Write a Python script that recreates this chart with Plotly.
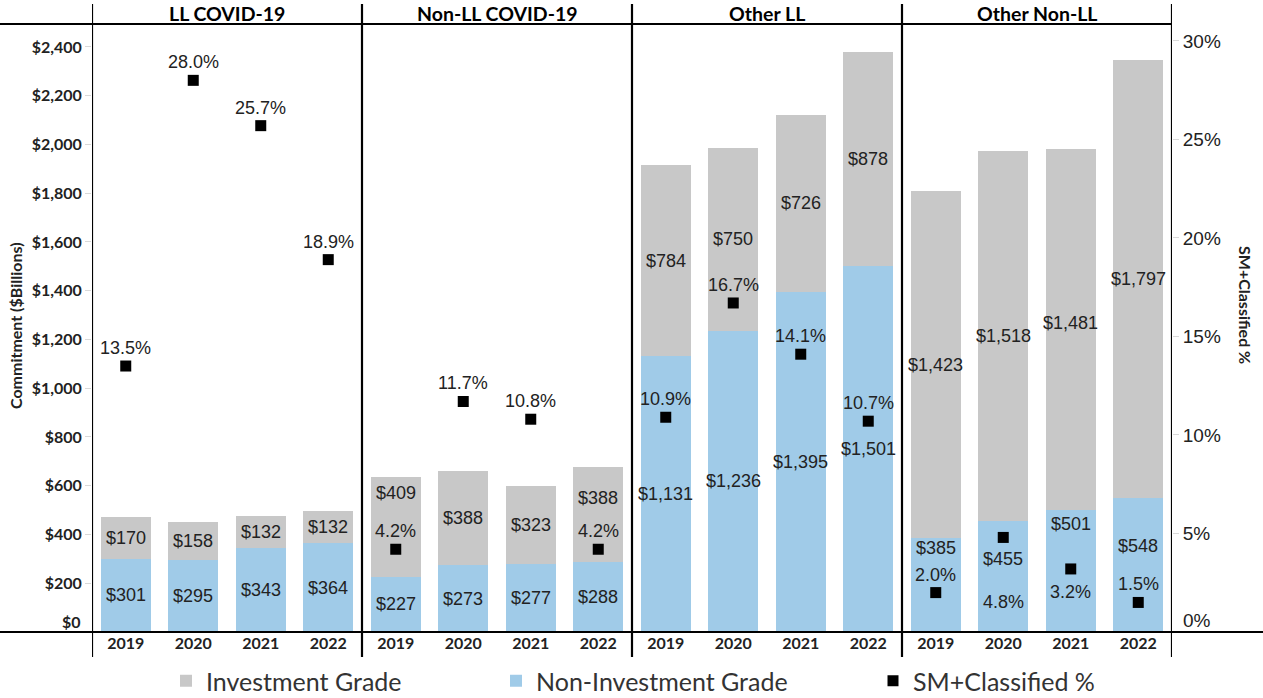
import plotly.graph_objects as go

# ---------------- data ----------------
panels = ["LL COVID-19", "Non-LL COVID-19", "Other LL", "Other Non-LL"]
years = ["2019", "2020", "2021", "2022"]

ll_covid_nig = [301, 295, 343, 364]
ll_covid_ig = [170, 158, 132, 132]
ll_covid_pct = [13.5, 28.0, 25.7, 18.9]

nonll_covid_nig = [227, 273, 277, 288]
nonll_covid_ig = [409, 388, 323, 388]
nonll_covid_pct = [4.2, 11.7, 10.8, 4.2]

other_ll_nig = [1131, 1236, 1395, 1501]
other_ll_ig = [784, 750, 726, 878]
other_ll_pct = [10.9, 16.7, 14.1, 10.7]

other_nonll_nig = [385, 455, 501, 548]
other_nonll_ig = [1423, 1518, 1481, 1797]
other_nonll_pct = [2.0, 4.8, 3.2, 1.5]

left_ticks = [0, 200, 400, 600, 800, 1000, 1200, 1400, 1600, 1800, 2000, 2200, 2400]
left_tick_text = ["$" + f"{v:,}" for v in left_ticks]
right_ticks = [0, 5, 10, 15, 20, 25, 30]
right_tick_text = [f"{v}%" for v in right_ticks]

# ---------------- assemble ----------------
nig = ll_covid_nig + nonll_covid_nig + other_ll_nig + other_nonll_nig
ig = ll_covid_ig + nonll_covid_ig + other_ll_ig + other_nonll_ig
pct = ll_covid_pct + nonll_covid_pct + other_ll_pct + other_nonll_pct
n_years = len(years)
x_pos = list(range(len(panels) * n_years))
x_labels = years * len(panels)

# label nudges (pixels, + = up) to mimic the original label placement
nig_label_shift = {12: 37, 13: 18, 14: 47, 15: 19}
ig_label_shift = {4: 34, 7: 17, 14: 6}
pct_label_default = 18
pct_label_shift = {13: -65, 14: -23}

BLUE = "#A0CBE8"
GRAY = "#C8C8C8"
TXT = "#222222"
LABEL_FONT = dict(family="Liberation Sans, Arial, sans-serif", size=18, color=TXT)
BOLD = "Lato, Open Sans, sans-serif"
LEFT_TICK_FONT = dict(family=BOLD, size=16, color=TXT, weight="bold")
RIGHT_TICK_FONT = dict(family="Liberation Sans, Arial, sans-serif", size=19, color=TXT)

fig = go.Figure()
fig.add_trace(go.Bar(x=x_pos, y=nig, name="Non-Investment Grade",
                     marker=dict(color=BLUE, line=dict(width=0)),
                     legend="legend2", hoverinfo="skip"))
fig.add_trace(go.Bar(x=x_pos, y=ig, name="Investment Grade",
                     marker=dict(color=GRAY, line=dict(width=0)),
                     legend="legend", hoverinfo="skip"))
fig.add_trace(go.Scatter(x=x_pos, y=pct, yaxis="y2", mode="markers",
                         name="SM+Classified %",
                         marker=dict(symbol="square", size=11, color="black"),
                         legend="legend3", hoverinfo="skip"))

# data labels
for i in x_pos:
    fig.add_annotation(x=i, y=nig[i] / 2, text=f"${nig[i]:,}", showarrow=False,
                       yshift=nig_label_shift.get(i, 0), font=LABEL_FONT)
    fig.add_annotation(x=i, y=nig[i] + ig[i] / 2, text=f"${ig[i]:,}", showarrow=False,
                       yshift=ig_label_shift.get(i, 0), font=LABEL_FONT)
    fig.add_annotation(x=i, y=pct[i], yref="y2", text=f"{pct[i]:.1f}%", showarrow=False,
                       yshift=pct_label_shift.get(i, pct_label_default), font=LABEL_FONT)

# panel headers
for p, name in enumerate(panels):
    fig.add_annotation(x=p * n_years + (n_years - 1) / 2, xref="x", y=1.0165, yref="paper",
                       text=name, showarrow=False, yanchor="middle", xanchor="center",
                       font=dict(family=BOLD, size=19.5, color="black", weight="bold"))

# panel frame lines
W, H = 1263, 698
L, R, T, B = 92, 91, 24, 66
pw, ph = W - L - R, H - T - B
line_style = dict(color="black", width=2.2)
for p in range(len(panels) + 1):
    xv = p * n_years - 0.5
    fig.add_shape(type="line", xref="x", yref="paper", x0=xv, x1=xv,
                  y0=-(657 - (H - B)) / ph, y1=1 + (T - 4) / ph, line=line_style, layer="above")
fig.add_shape(type="line", xref="paper", yref="paper", x0=-L / pw, x1=1, y0=1, y1=1,
              line=line_style, layer="above")
fig.add_shape(type="line", xref="paper", yref="paper", x0=-L / pw, x1=(W - L) / pw, y0=0, y1=0,
              line=line_style, layer="above")

# zero tick labels sit just above the baseline (as in the original)
fig.add_annotation(x=-9 / pw, y=0, xref="paper", yref="y", text=left_tick_text[0],
                   showarrow=False, xanchor="right", yanchor="middle", yshift=11,
                   font=LEFT_TICK_FONT)
fig.add_annotation(x=1 + 9 / pw, y=0, xref="paper", yref="y2", text=right_tick_text[0],
                   showarrow=False, xanchor="left", yanchor="middle", yshift=12,
                   font=RIGHT_TICK_FONT)

# axis titles
fig.add_annotation(x=-(L - 15) / pw, y=(H - B - 326) / ph, xref="paper", yref="paper",
                   text="Commitment ($Billions)", textangle=-90, showarrow=False,
                   xanchor="center", yanchor="middle",
                   font=dict(family=BOLD, size=16, color=TXT, weight="bold"))
fig.add_annotation(x=(1246 - L) / pw, y=(H - B - 305) / ph, xref="paper", yref="paper",
                   text="SM+Classified %", textangle=90, showarrow=False,
                   xanchor="center", yanchor="middle",
                   font=dict(family=BOLD, size=16, color=TXT, weight="bold"))

legend_common = dict(orientation="h", yanchor="middle", y=-(681 - (H - B)) / ph,
                     xanchor="left", bgcolor="rgba(0,0,0,0)", borderwidth=0,
                     font=dict(family="Lato, sans-serif", size=25, color="#333333"))

fig.update_layout(
    width=W, height=H,
    margin=dict(l=L, r=R, t=T, b=B, autoexpand=False),
    plot_bgcolor="white", paper_bgcolor="white",
    barmode="stack", bargap=0.26,
    font=dict(family="Liberation Sans, Arial, sans-serif", color=TXT),
    xaxis=dict(range=[-0.5, len(x_pos) - 0.5], tickmode="array", tickvals=x_pos,
               ticktext=x_labels, showgrid=False, zeroline=False, showline=False,
               ticks="", tickfont=dict(family=BOLD, size=16, color=TXT, weight="bold")),
    yaxis=dict(range=[0, 2494], tickmode="array", tickvals=left_ticks,
               ticktext=[""] + left_tick_text[1:], showgrid=False, zeroline=False,
               showline=False, ticks="outside", ticklen=6, tickcolor="#D9D9D9",
               tickfont=LEFT_TICK_FONT),
    yaxis2=dict(range=[0, 30.86], overlaying="y", side="right", tickmode="array",
                tickvals=right_ticks, ticktext=[""] + right_tick_text[1:], showgrid=False,
                zeroline=False, showline=False, ticks="outside", ticklen=6,
                tickcolor="#D9D9D9", tickfont=RIGHT_TICK_FONT),
    legend=dict(**legend_common, x=(166 - L) / pw),
    legend2=dict(**legend_common, x=(496 - L) / pw),
    legend3=dict(**legend_common, x=(873 - L) / pw),
    showlegend=True,
)

fig.write_html("out.html", config={"displayModeBar": False},
               post_script="document.body.style.margin='0px';")
